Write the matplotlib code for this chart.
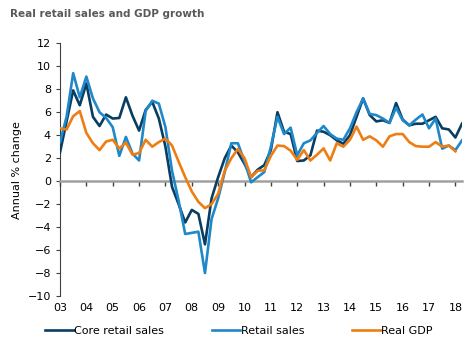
import numpy as np
import matplotlib
matplotlib.use("Agg")
import matplotlib.pyplot as plt

# Quarterly data, 2003Q1 onwards (annual % change)
core_retail = [2.5, 5.2, 7.9, 6.6,
               8.5, 5.6, 4.8, 5.8,
               5.45, 5.5, 7.3, 5.7,
               4.4, 6.2, 6.9, 5.45,
               3.0, -0.5, -2.0, -3.6,
               -2.5, -2.85, -5.5, -1.5,
               0.35, 2.0, 3.1, 2.5,
               1.5, 0.35, 1.0, 1.4,
               2.7, 6.0, 4.3, 4.1,
               1.75, 1.8, 2.25, 4.4,
               4.3, 4.0, 3.55, 3.26,
               4.0, 5.6, 7.2, 5.75,
               5.2, 5.3, 5.07, 6.8,
               5.36, 4.86, 5.0, 5.0,
               5.3, 5.6, 4.6, 4.5,
               3.8, 5.0]

retail = [3.4, 5.6, 9.4, 7.3,
          9.1, 7.2, 6.0, 5.5,
          4.7, 2.2, 3.85, 2.4,
          1.8, 6.1, 7.0, 6.75,
          4.7, 0.9, -1.7, -4.6,
          -4.5, -4.4, -8.0, -3.3,
          -1.5, 0.8, 3.3, 3.3,
          1.7, -0.1, 0.35, 0.79,
          3.0, 5.6, 4.1, 4.66,
          2.25, 3.3, 3.55, 4.2,
          4.8, 4.1, 3.7, 3.6,
          4.6, 6.0, 7.2, 5.85,
          5.75, 5.45, 5.07, 6.4,
          5.3, 4.86, 5.36, 5.8,
          4.6, 5.45, 2.83, 3.1,
          2.7, 3.55]

real_gdp = [4.6, 4.5, 5.65, 6.1,
            4.2, 3.3, 2.7, 3.45,
            3.6, 2.85, 3.35, 2.3,
            2.45, 3.6, 3.0, 3.4,
            3.7, 3.1, 1.7, 0.35,
            -0.9, -1.8, -2.35, -2.0,
            -1.1, 0.9, 2.0, 2.8,
            2.0, 0.35, 0.9, 0.95,
            2.2, 3.1, 3.05, 2.65,
            1.85, 2.7, 1.8, 2.3,
            2.85, 1.8, 3.3, 3.0,
            3.6, 4.75, 3.6, 3.9,
            3.55, 3.0, 3.9, 4.1,
            4.1, 3.4, 3.05, 3.0,
            3.0, 3.4, 3.0, 3.1,
            2.6]

years = list(range(2003, 2019))
year_labels = ["%02d" % (y % 100) for y in years]

t_retail = 2003 + 0.25 * np.arange(len(core_retail))
t_gdp = 2003 + 0.25 * np.arange(len(real_gdp))

plt.rcParams["font.family"] = ["DejaVu Sans"]
plt.rcParams["font.size"] = 8

fig = plt.figure(figsize=(4.75, 3.52), dpi=100)
ax = fig.add_axes([0.1263, 0.159, 0.9726 - 0.1263, 0.877 - 0.159])

ax.plot(t_retail, core_retail, color="#0a3d62", lw=1.9, label="Core retail sales", zorder=3)
ax.plot(t_retail, retail, color="#1f88c9", lw=1.9, label="Retail sales", zorder=3)
ax.plot(t_gdp, real_gdp, color="#ee7d12", lw=1.9, label="Real GDP", zorder=3)

ax.set_xlim(2003, 2018.25)
ax.set_ylim(-10, 12)
ax.set_yticks(range(-10, 13, 2))

# zero line carries the year ticks; labels pushed down to the bottom
ax.spines["bottom"].set_position(("data", 0))
ax.spines["bottom"].set_color("#a0a0a0")
ax.spines["bottom"].set_linewidth(1.8)
ax.spines["top"].set_visible(False)
ax.spines["right"].set_visible(False)
ax.spines["left"].set_color("#404040")
ax.set_xticks(years)
ax.set_xticklabels(year_labels)
ax.tick_params(axis="x", direction="out", length=3.5, width=1, color="#404040", pad=84)
ax.tick_params(axis="y", direction="out", length=3, color="#404040", labelcolor="black")

ax.set_ylabel("Annual % change", labelpad=4)

fig.text(0.021, 0.96, "Real retail sales and GDP growth", fontweight="bold",
         color="#595959", fontsize=7.5, va="center", ha="left")

ax.legend(loc="upper center", bbox_to_anchor=(0.445, -0.1), ncol=3, frameon=False,
          handlelength=2.6, handletextpad=0.05, columnspacing=4.25, borderaxespad=0)

fig.savefig("out.png", dpi=100)
plt.close(fig)
